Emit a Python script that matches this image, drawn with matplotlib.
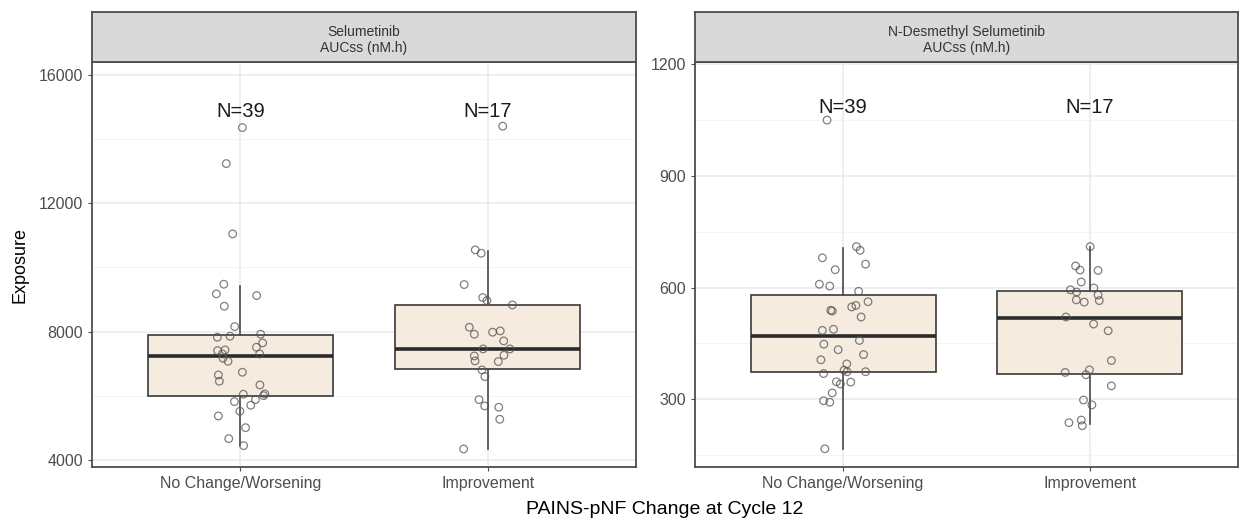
import numpy as np
import matplotlib.pyplot as plt

plt.rcParams["font.family"] = ["Liberation Sans", "DejaVu Sans"]

categories = ["No Change/Worsening", "Improvement"]
panel_titles = ["Selumetinib\nAUCss (nM.h)", "N-Desmethyl Selumetinib\nAUCss (nM.h)"]
n_labels = ["N=39", "N=17"]

# box statistics per panel: [q1, median, q3, whisker low, whisker high]
sel_box = [[5994, 7241, 7896, 4467, 9433],
           [6826, 7459, 8831, 4333, 10524]]
des_box = [[372, 470, 580, 167, 707],
           [367, 519, 592, 234, 710]]

# individual exposures
sel_nochange = [14357, 13235, 11044, 9476, 9174, 9121, 8790, 8155, 7824, 7855, 7918, 7647,
                7512, 7406, 7428, 7303, 7303, 7169, 7075, 6733, 6649, 6452, 6337, 6047,
                6057, 6004, 5880, 5817, 5704, 5517, 5371, 5006, 4664, 4446]
sel_improve = [14400, 10545, 10441, 9465, 9060, 8967, 8831, 8135, 7917, 7980, 8020, 7709,
               7459, 7459, 7263, 7241, 7085, 7065, 6805, 6597, 5880, 5683, 5642, 5268, 4343]
des_nochange = [1050, 710, 700, 680, 663, 648, 609, 604, 590, 562, 539, 537, 548, 552, 521,
                485, 488, 458, 448, 433, 420, 406, 395, 378, 374, 369, 374, 347, 341, 346,
                317, 296, 292, 167]
des_improve = [710, 658, 647, 646, 615, 594, 588, 599, 580, 565, 567, 561, 521, 502, 484,
               404, 372, 379, 366, 336, 298, 285, 237, 244, 229]

# horizontal jitter of the points (category units)
jit_sel_nochange = [0.008, -0.057, -0.031, -0.067, -0.097, 0.066, -0.065, -0.023, -0.093, -0.042,
                    0.082, 0.090, 0.065, -0.092, -0.062, -0.073, 0.078, -0.070, -0.050, 0.008,
                    -0.089, -0.085, 0.079, 0.012, 0.099, 0.094, 0.061, -0.024, 0.042, -0.002,
                    -0.089, 0.021, -0.047, 0.013]
jit_sel_improve = [0.061, -0.050, -0.026, -0.095, -0.020, -0.003, 0.100, -0.074, -0.054, 0.020,
                   0.051, 0.065, -0.018, 0.090, 0.066, -0.054, -0.051, 0.043, -0.023, -0.011,
                   -0.035, -0.012, 0.045, 0.049, -0.097]
jit_des_nochange = [-0.065, 0.054, 0.069, -0.084, 0.091, -0.032, -0.096, -0.054, 0.063, 0.101,
                    -0.050, -0.044, 0.035, 0.052, 0.073, -0.084, -0.039, 0.066, -0.078, -0.020,
                    0.083, -0.090, 0.015, 0.004, 0.016, -0.079, 0.091, -0.027, -0.011, 0.031,
                    -0.044, -0.079, -0.054, -0.074]
jit_des_improve = [0.001, -0.058, -0.040, 0.033, -0.035, -0.079, -0.054, 0.016, 0.033, 0.038,
                   -0.055, -0.023, -0.097, 0.015, 0.074, 0.087, -0.100, -0.002, -0.016, 0.087,
                   -0.026, 0.008, -0.085, -0.035, -0.031]

panels = [
    dict(box=sel_box, pts=[sel_nochange, sel_improve], jit=[jit_sel_nochange, jit_sel_improve],
         ylim=(3780, 16400), major=[4000, 8000, 12000, 16000], minor=[6000, 10000, 14000],
         n_y=14850),
    dict(box=des_box, pts=[des_nochange, des_improve], jit=[jit_des_nochange, jit_des_improve],
         ylim=(118, 1206), major=[300, 600, 900, 1200], minor=[150, 450, 750, 1050],
         n_y=1085),
]

fig = plt.figure(figsize=(12.4, 5.2), dpi=100)
lefts = [92 / 1240, 695 / 1240]
widths = [544 / 1240, 543 / 1240]
grid_col = "#ebebeb"
frame_col = "#4d4d4d"

for i, p in enumerate(panels):
    ax = fig.add_axes([lefts[i], 1 - 467 / 520, widths[i], 405 / 520])
    strip = fig.add_axes([lefts[i], 1 - 62 / 520, widths[i], 50 / 520])

    ax.set_xlim(0.4, 2.6)
    ax.set_ylim(*p["ylim"])
    for y in p["minor"]:
        ax.axhline(y, color="#f4f4f4", lw=0.8, zorder=0)
    for y in p["major"]:
        ax.axhline(y, color=grid_col, lw=1.2, zorder=0)
    for x in [1, 2]:
        ax.axvline(x, color=grid_col, lw=1.2, zorder=0)

    stats = []
    for q1, med, q3, lo, hi in p["box"]:
        stats.append(dict(q1=q1, med=med, q3=q3, whislo=lo, whishi=hi, fliers=[]))
    ax.bxp(stats, positions=[1, 2], widths=0.75, patch_artist=True, showcaps=False,
           boxprops=dict(facecolor="#f6ebdf", edgecolor="#3a3a3a", lw=1.2),
           medianprops=dict(color="#2b2b2b", lw=2.6),
           whiskerprops=dict(color="#4a4a4a", lw=1.2), zorder=2)

    for k in range(2):
        xs = np.array(p["jit"][k]) + k + 1
        ax.scatter(xs, p["pts"][k], s=30, facecolors="none", edgecolors="#555555",
                   linewidths=0.9, alpha=0.75, zorder=3)
        ax.text(k + 1, p["n_y"], n_labels[k], ha="center", va="center", fontsize=14.5,
                color="#1a1a1a")

    ax.set_xticks([1, 2])
    ax.set_xticklabels(categories, fontsize=11.5, color="#4d4d4d")
    ax.set_yticks(p["major"])
    ax.set_yticklabels([str(v) for v in p["major"]], fontsize=11.5, color="#4d4d4d")
    ax.tick_params(length=3, color="#4d4d4d", width=0.8)
    for s in ax.spines.values():
        s.set_color(frame_col)
        s.set_linewidth(1.3)

    strip.set_facecolor("#d9d9d9")
    strip.set_xticks([])
    strip.set_yticks([])
    for s in strip.spines.values():
        s.set_color(frame_col)
        s.set_linewidth(1.3)
    strip.text(0.5, 0.44, panel_titles[i], ha="center", va="center", fontsize=10,
               color="#333333", linespacing=1.25, transform=strip.transAxes)

fig.text(0.009, 1 - 265 / 520, "Exposure", rotation=90, ha="left", va="center", fontsize=13)
fig.text(0.536, 1 - 509 / 520, "PAINS-pNF Change at Cycle 12", ha="center", va="center",
         fontsize=14)

fig.savefig("out.png", dpi=100)
